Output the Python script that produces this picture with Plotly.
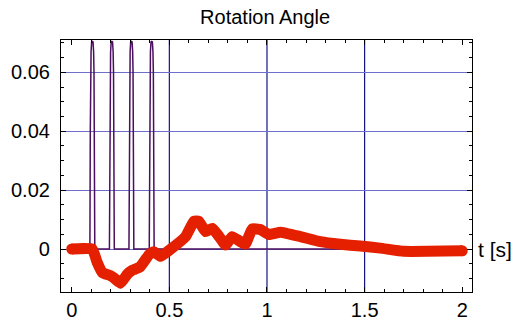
import plotly.graph_objects as go

# Red thick curve (rotation angle)
red_t = [0.0, 0.105, 0.13, 0.157, 0.2, 0.216, 0.25, 0.285, 0.31, 0.35, 0.395, 0.42,
         0.455, 0.5, 0.583, 0.626, 0.651, 0.685, 0.72, 0.755, 0.788, 0.822, 0.864,
         0.89, 0.924, 0.967, 1.009, 1.069, 1.171, 1.274, 1.376, 1.478, 1.58, 1.70,
         1.82, 2.0]
red_v = [0.0, 0.0, -0.0045, -0.008, -0.0091, -0.0098, -0.0116, -0.0085, -0.0072,
         -0.0061, -0.002, -0.0009, -0.0025, -0.0004, 0.0042, 0.0094, 0.0094, 0.0059,
         0.007, 0.0042, 0.0014, 0.0042, 0.0025, 0.0017, 0.0068, 0.0066, 0.0049,
         0.0057, 0.0042, 0.0025, 0.0016, 0.001, 0.0003, -0.0008, -0.0008, -0.0006]

# Purple pulse train
pulse_starts = [0.093, 0.193, 0.293, 0.397]
pulse_dt = [0.0, 0.002, 0.004, 0.006, 0.009, 0.0125, 0.016, 0.019, 0.021, 0.023, 0.025]
pulse_v = [0.0, 0.04, 0.06, 0.067, 0.0703, 0.0705, 0.0703, 0.067, 0.06, 0.04, 0.0]
purple_end = 2.0

x_ticks = [0, 0.5, 1, 1.5, 2]
x_ticktext = ["0", "0.5", "1", "1.5", "2"]
y_ticks = [0, 0.02, 0.04, 0.06]
y_ticktext = ["0", "0.02", "0.04", "0.06"]
x_grid = [0.5, 1, 1.5]

purple_t = [0.0]
purple_v = [0.0]
for s in pulse_starts:
    for dt, v in zip(pulse_dt, pulse_v):
        purple_t.append(s + dt)
        purple_v.append(v)
purple_t.append(purple_end)
purple_v.append(0.0)

FONT = "Liberation Sans, Arial, sans-serif"
RED = "rgb(228,32,0)"

fig = go.Figure()
fig.add_trace(go.Scatter(x=purple_t, y=purple_v, mode="lines",
                         line=dict(color="rgb(75,15,95)", width=1.5),
                         hoverinfo="skip", showlegend=False))
sizes = [11] + [0] * (len(red_t) - 2) + [11]
fig.add_trace(go.Scatter(x=red_t, y=red_v, mode="lines+markers",
                         line=dict(color=RED, width=11, shape="spline", smoothing=0.35),
                         marker=dict(color=RED, size=sizes, opacity=1, line=dict(width=0)),
                         hoverinfo="skip", showlegend=False))

for g in x_grid:
    fig.add_shape(type="line", x0=g, x1=g, y0=0, y1=1, xref="x", yref="paper",
                  line=dict(color="rgb(20,20,135)", width=1.2), layer="below")

fig.update_layout(
    width=524, height=323,
    margin=dict(l=61, r=52, t=40, b=31, autoexpand=False),
    paper_bgcolor="white", plot_bgcolor="white",
    font=dict(family=FONT, size=20, color="black"),
    title=dict(text="Rotation Angle", x=0.506, xanchor="center",
               y=1 - 17 / 323, yanchor="middle", yref="container",
               font=dict(family=FONT, size=20, color="black")),
    xaxis=dict(range=[-0.055, 2.05], tickvals=x_ticks, ticktext=x_ticktext,
               automargin=False,
               showgrid=False, zeroline=False, showline=True, linecolor="black",
               linewidth=1.2, mirror="allticks", ticks="inside", ticklen=5,
               tickcolor="black", tickfont=dict(size=20),
               minor=dict(dtick=0.1, tick0=0, ticks="inside", ticklen=3,
                          tickcolor="black", showgrid=False)),
    yaxis=dict(range=[-0.0146, 0.07097], tickvals=y_ticks, ticktext=y_ticktext,
               automargin=False,
               showgrid=True, gridcolor="rgb(110,110,205)", gridwidth=1.2,
               zeroline=False, showline=True, linecolor="black", linewidth=1.2,
               mirror="allticks", ticks="inside", ticklen=5, tickcolor="black",
               tickfont=dict(size=20), ticklabelstandoff=6,
               minor=dict(dtick=0.005, tick0=0, ticks="inside", ticklen=3,
                          tickcolor="black", showgrid=False)),
    annotations=[dict(text="t [s]", xref="paper", x=1, xanchor="left", xshift=4,
                      yref="y", y=0, yanchor="middle", showarrow=False,
                      font=dict(family=FONT, size=21, color="black"))],
)

fig.write_html("out.html")
